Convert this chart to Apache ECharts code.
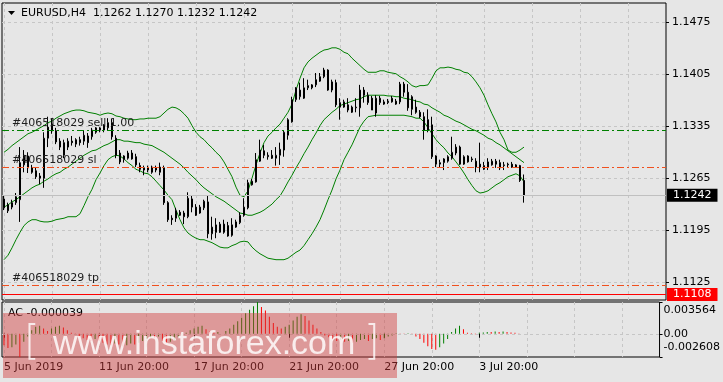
<!DOCTYPE html>
<html><head><meta charset="utf-8">
<script src="https://cdn.jsdelivr.net/npm/echarts@6/dist/echarts.min.js"></script>
<style>html,body{margin:0;padding:0;background:#e6e6e6;}#c{width:723px;height:382px;}</style>
</head><body><div id="c"></div>
<script>
const symbolName = 'EURUSD,H4';
const opens = [1.1237,1.1221,1.1226,1.1232,1.1236,1.1283,1.1295,1.1279,1.1275,1.1265,
1.1265,1.1319,1.1338,1.1329,1.1315,1.1296,1.1307,1.1315,1.1311,1.1317,
1.1315,1.1322,1.1321,1.1327,1.1330,1.1330,1.1333,1.1340,1.1319,1.1299,
1.1290,1.1292,1.1299,1.1294,1.1282,1.1279,1.1276,1.1273,1.1279,1.1273,
1.1279,1.1232,1.1211,1.1211,1.1219,1.1218,1.1213,1.1237,1.1226,1.1218,
1.1225,1.1233,1.1190,1.1202,1.1192,1.1203,1.1201,1.1202,1.1199,1.1205,
1.1215,1.1225,1.1256,1.1260,1.1288,1.1302,1.1294,1.1296,1.1292,1.1296,
1.1303,1.1323,1.1341,1.1371,1.1375,1.1373,1.1387,1.1387,1.1391,1.1396,
1.1402,1.1411,1.1384,1.1394,1.1367,1.1368,1.1364,1.1354,1.1360,1.1360,
1.1384,1.1367,1.1373,1.1353,1.1367,1.1368,1.1367,1.1368,1.1369,1.1368,
1.1392,1.1381,1.1358,1.1361,1.1354,1.1348,1.1344,1.1337,1.1295,1.1284,
1.1286,1.1288,1.1292,1.1299,1.1307,1.1284,1.1287,1.1291,1.1288,1.1284,
1.1277,1.1287,1.1283,1.1288,1.1286,1.1282,1.1283,1.1284,1.1280,1.1282,
1.1262];
const highs = [1.1241,1.1232,1.1236,1.1245,1.1307,1.1303,1.1300,1.1283,1.1279,1.1272,
1.1327,1.1348,1.1346,1.1333,1.1319,1.1317,1.1319,1.1322,1.1319,1.1321,
1.1330,1.1326,1.1333,1.1334,1.1334,1.1338,1.1346,1.1345,1.1323,1.1303,
1.1296,1.1302,1.1303,1.1298,1.1286,1.1282,1.1282,1.1282,1.1282,1.1286,
1.1282,1.1234,1.1215,1.1225,1.1222,1.1221,1.1246,1.1242,1.1230,1.1229,
1.1236,1.1242,1.1213,1.1211,1.1206,1.1209,1.1206,1.1211,1.1209,1.1219,
1.1238,1.1263,1.1264,1.1299,1.1317,1.1310,1.1300,1.1303,1.1307,1.1313,
1.1330,1.1346,1.1375,1.1388,1.1394,1.1400,1.1398,1.1392,1.1407,1.1407,
1.1414,1.1412,1.1398,1.1398,1.1373,1.1371,1.1373,1.1363,1.1373,1.1391,
1.1388,1.1381,1.1376,1.1377,1.1376,1.1371,1.1372,1.1376,1.1372,1.1395,
1.1395,1.1392,1.1377,1.1371,1.1357,1.1354,1.1358,1.1348,1.1296,1.1290,
1.1292,1.1296,1.1321,1.1311,1.1309,1.1296,1.1296,1.1294,1.1292,1.1313,
1.1287,1.1292,1.1291,1.1291,1.1290,1.1287,1.1286,1.1287,1.1284,1.1283,
1.1270];
const lows = [1.1222,1.1218,1.1223,1.1229,1.1206,1.1273,1.1272,1.1271,1.1264,1.1257,
1.1252,1.1307,1.1325,1.1311,1.1303,1.1292,1.1303,1.1309,1.1307,1.1309,
1.1310,1.1306,1.1317,1.1325,1.1327,1.1327,1.1330,1.1317,1.1292,1.1284,
1.1286,1.1290,1.1290,1.1280,1.1273,1.1269,1.1273,1.1271,1.1273,1.1269,
1.1229,1.1206,1.1202,1.1206,1.1214,1.1203,1.1211,1.1219,1.1214,1.1217,
1.1222,1.1184,1.1182,1.1184,1.1191,1.1190,1.1186,1.1186,1.1198,1.1203,
1.1213,1.1223,1.1255,1.1259,1.1287,1.1292,1.1290,1.1291,1.1282,1.1283,
1.1294,1.1317,1.1340,1.1368,1.1371,1.1372,1.1384,1.1385,1.1388,1.1395,
1.1400,1.1383,1.1381,1.1361,1.1344,1.1360,1.1354,1.1353,1.1354,1.1348,
1.1367,1.1364,1.1357,1.1348,1.1364,1.1364,1.1365,1.1367,1.1364,1.1365,
1.1375,1.1356,1.1350,1.1352,1.1346,1.1317,1.1327,1.1291,1.1280,1.1280,
1.1276,1.1286,1.1290,1.1296,1.1283,1.1283,1.1286,1.1287,1.1273,1.1273,
1.1276,1.1276,1.1282,1.1279,1.1276,1.1276,1.1280,1.1279,1.1279,1.1260,
1.1232];
const closes = [1.1225,1.1229,1.1232,1.1240,1.1286,1.1296,1.1279,1.1273,1.1267,1.1268,
1.1319,1.1334,1.1329,1.1314,1.1307,1.1313,1.1315,1.1313,1.1317,1.1313,
1.1323,1.1313,1.1330,1.1333,1.1333,1.1337,1.1340,1.1321,1.1296,1.1287,
1.1295,1.1299,1.1291,1.1283,1.1277,1.1276,1.1279,1.1280,1.1276,1.1280,
1.1232,1.1209,1.1209,1.1221,1.1215,1.1213,1.1238,1.1226,1.1215,1.1226,
1.1234,1.1190,1.1199,1.1192,1.1203,1.1192,1.1187,1.1188,1.1206,1.1215,
1.1226,1.1259,1.1261,1.1290,1.1303,1.1296,1.1296,1.1292,1.1296,1.1304,
1.1327,1.1344,1.1371,1.1387,1.1384,1.1387,1.1390,1.1391,1.1398,1.1402,
1.1411,1.1384,1.1395,1.1364,1.1361,1.1361,1.1357,1.1361,1.1361,1.1384,
1.1377,1.1377,1.1357,1.1373,1.1373,1.1365,1.1369,1.1373,1.1365,1.1392,
1.1381,1.1360,1.1375,1.1354,1.1348,1.1330,1.1330,1.1294,1.1284,1.1286,
1.1291,1.1294,1.1300,1.1307,1.1284,1.1294,1.1295,1.1290,1.1280,1.1280,
1.1282,1.1280,1.1288,1.1284,1.1279,1.1283,1.1284,1.1280,1.1283,1.1262,
1.1242];
const bbUpper = [1.1300,1.1304,1.1309,1.1313,1.1317,1.1321,1.1325,1.1327,1.1330,1.1333,
1.1336,1.1340,1.1342,1.1346,1.1349,1.1352,1.1354,1.1356,1.1357,1.1357,
1.1356,1.1354,1.1353,1.1352,1.1350,1.1352,1.1353,1.1352,1.1349,1.1348,
1.1346,1.1345,1.1344,1.1344,1.1345,1.1345,1.1346,1.1346,1.1346,1.1348,
1.1353,1.1358,1.1361,1.1360,1.1357,1.1352,1.1346,1.1336,1.1327,1.1321,
1.1317,1.1311,1.1306,1.1300,1.1295,1.1287,1.1277,1.1267,1.1253,1.1242,
1.1240,1.1248,1.1265,1.1283,1.1299,1.1313,1.1322,1.1327,1.1333,1.1338,
1.1346,1.1354,1.1365,1.1384,1.1400,1.1414,1.1422,1.1427,1.1431,1.1435,
1.1438,1.1439,1.1441,1.1441,1.1439,1.1435,1.1433,1.1427,1.1422,1.1417,
1.1412,1.1408,1.1408,1.1408,1.1410,1.1410,1.1408,1.1407,1.1406,1.1402,
1.1399,1.1395,1.1390,1.1388,1.1390,1.1390,1.1391,1.1400,1.1410,1.1414,
1.1414,1.1415,1.1414,1.1412,1.1411,1.1408,1.1407,1.1402,1.1395,1.1387,
1.1377,1.1364,1.1352,1.1341,1.1327,1.1317,1.1303,1.1300,1.1300,1.1303,
1.1307];
const bbMiddle = [1.1226,1.1229,1.1233,1.1236,1.1240,1.1244,1.1248,1.1252,1.1255,1.1257,
1.1261,1.1264,1.1268,1.1271,1.1273,1.1277,1.1280,1.1284,1.1288,1.1292,
1.1296,1.1299,1.1302,1.1303,1.1306,1.1309,1.1311,1.1314,1.1317,1.1317,
1.1315,1.1315,1.1314,1.1313,1.1313,1.1311,1.1310,1.1309,1.1306,1.1303,
1.1300,1.1296,1.1292,1.1288,1.1284,1.1279,1.1273,1.1268,1.1263,1.1257,
1.1252,1.1248,1.1244,1.1240,1.1237,1.1234,1.1230,1.1226,1.1222,1.1218,
1.1217,1.1215,1.1215,1.1217,1.1219,1.1222,1.1226,1.1230,1.1236,1.1241,
1.1250,1.1260,1.1269,1.1279,1.1288,1.1298,1.1307,1.1317,1.1326,1.1336,
1.1344,1.1349,1.1354,1.1358,1.1363,1.1365,1.1367,1.1369,1.1371,1.1372,
1.1375,1.1377,1.1377,1.1377,1.1377,1.1377,1.1376,1.1376,1.1375,1.1375,
1.1373,1.1372,1.1371,1.1369,1.1368,1.1365,1.1364,1.1360,1.1357,1.1354,
1.1350,1.1348,1.1345,1.1342,1.1340,1.1337,1.1334,1.1331,1.1329,1.1326,
1.1323,1.1319,1.1317,1.1313,1.1310,1.1306,1.1302,1.1298,1.1294,1.1290,
1.1286];
const bbLower = [1.1155,1.1161,1.1171,1.1182,1.1192,1.1201,1.1206,1.1209,1.1209,1.1207,
1.1206,1.1206,1.1207,1.1209,1.1210,1.1211,1.1213,1.1213,1.1213,1.1217,
1.1228,1.1240,1.1250,1.1263,1.1272,1.1282,1.1290,1.1294,1.1296,1.1295,
1.1291,1.1286,1.1282,1.1277,1.1275,1.1272,1.1271,1.1267,1.1261,1.1255,
1.1249,1.1242,1.1236,1.1222,1.1209,1.1198,1.1191,1.1187,1.1184,1.1182,
1.1182,1.1180,1.1178,1.1175,1.1172,1.1171,1.1171,1.1174,1.1176,1.1179,
1.1180,1.1179,1.1172,1.1167,1.1163,1.1160,1.1157,1.1156,1.1155,1.1155,
1.1155,1.1157,1.1161,1.1165,1.1168,1.1174,1.1182,1.1190,1.1199,1.1209,
1.1222,1.1236,1.1249,1.1264,1.1276,1.1290,1.1300,1.1310,1.1322,1.1334,
1.1342,1.1348,1.1349,1.1350,1.1350,1.1350,1.1350,1.1350,1.1350,1.1350,
1.1350,1.1349,1.1348,1.1346,1.1346,1.1341,1.1333,1.1325,1.1317,1.1311,
1.1306,1.1299,1.1294,1.1287,1.1280,1.1272,1.1263,1.1255,1.1248,1.1245,
1.1246,1.1248,1.1252,1.1256,1.1259,1.1263,1.1267,1.1269,1.1271,1.1268,
1.1260];
const acValues = [-0.0013,-0.0016,-0.0015,-0.0012,-0.002608,-0.0009,-0.0003,0.0004,0.0008,0.0009,
0.0006,0.0003,0.0006,0.0008,0.0009,0.0007,0.0004,0.0001,-0.0001,-0.0003,
-0.0005,-0.0007,-0.0008,-0.0006,-0.0008,-0.0010,-0.0012,-0.0013,-0.0011,-0.0012,
-0.0014,-0.0013,-0.0011,-0.0012,-0.0010,-0.0008,-0.0006,-0.0004,-0.0005,-0.0003,
-0.0008,-0.0010,-0.0009,-0.0007,-0.0004,-0.0002,0.0001,0.0004,0.0006,0.0008,
0.0009,0.0005,0.0003,0.0001,0.0002,0.0000,0.0003,0.0006,0.0010,0.0014,
0.0018,0.0023,0.0027,0.0031,0.003564,0.0030,0.0026,0.0019,0.0012,0.0008,
0.0006,0.0008,0.0010,0.0015,0.0019,0.0022,0.0020,0.0015,0.0010,0.0006,
0.0002,-0.0002,-0.0004,-0.0006,-0.0008,-0.0007,-0.0009,-0.0008,-0.0010,-0.0009,
-0.0007,-0.0006,-0.0008,-0.0006,-0.0005,-0.0007,-0.0005,-0.0003,-0.0002,0.00006,
0.00003,-0.00004,0.00005,-0.00002,-0.0003,-0.0006,-0.0010,-0.0014,-0.0017,-0.0018,
-0.0015,-0.0011,-0.0006,0.0002,0.0006,0.0009,0.0005,0.0001,0.00005,-0.00005,
0.0001,0.00015,0.0002,0.0002,0.00025,0.0002,0.00025,0.0002,0.00015,0.0001,
-0.000039];
const priceTicks = [1.1125, 1.1195, 1.1265, 1.1335, 1.1405, 1.1475];
const acMin = -0.002608, acMax = 0.003564;
const acTicks = [acMin, 0, acMax];
const dateTickIndex = [0, 24, 48, 72, 96, 120];
const dateTickLabels = ['5 Jun 2019', '11 Jun 20:00', '17 Jun 20:00', '21 Jun 20:00', '27 Jun 20:00', '3 Jul 20:00'];
const orderId = '#406518029';
const sellLevel = 1.1330, slLevel = 1.1280, tpLevel = 1.1121, stopOutLevel = 1.1108, bidLevel = 1.1242;
const priceMin = 1.11006, priceMax = 1.15015;
const slotCount = 166;

const FONT = 'DejaVu Sans';
const chart = echarts.init(document.getElementById('c'), null, {renderer: 'canvas'});
const cats = Array.from({length: slotCount}, (_, i) => String(i));
const labelAt = {};
dateTickIndex.forEach((ix, k) => { labelAt[ix] = dateTickLabels[k]; });
const candleData = opens.map((o, i) => [o, closes[i], lows[i], highs[i]]);
const last = opens.length - 1;
const gridLine = {color: '#c6c6c6', width: 1, type: [3, 3]};
const dashDot = [7, 3, 2, 3];
const txt = {fontFamily: FONT, fontSize: 11};

function orderLine(v, color, text) {
  return {yAxis: v, lineStyle: {color: color, type: dashDot, width: 1},
    label: Object.assign({show: true, position: 'insideStartTop', formatter: text, color: '#1e1e1e', distance: [10, 1]}, txt)};
}
function boxLine(v, color, lineColor) {
  return {yAxis: v, lineStyle: {color: lineColor, type: 'solid', width: 1},
    label: Object.assign({show: true, position: 'end', formatter: v.toFixed(4), color: '#fff', backgroundColor: color, padding: [1, 6, 1, 6], distance: 1}, txt)};
}
const bandSeries = (data, extra) => Object.assign({type: 'line', xAxisIndex: 0, yAxisIndex: 0, data: data, symbol: 'none', silent: true,
  lineStyle: {color: '#008000', width: 1}, itemStyle: {color: '#008000'}, z: 2}, extra || {});

const levelMarks = {silent: true, symbol: ['none', 'none'], animation: false, precision: 6,
  data: [
    boxLine(bidLevel, '#000000', '#c0c0c0'),
    orderLine(sellLevel, '#008000', orderId + ' sell 1.00'),
    orderLine(slLevel, '#f0501e', orderId + ' sl'),
    orderLine(tpLevel, '#f0501e', orderId + ' tp'),
    boxLine(stopOutLevel, '#ff0000', '#ff0000')
  ]};

const option = {
  animation: false,
  backgroundColor: '#e6e6e6',
  textStyle: txt,
  grid: [
    {left: 2, top: 3, width: 664, height: 297, show: true, borderColor: '#000', borderWidth: 1, backgroundColor: 'transparent'},
    {left: 2, top: 302, width: 664, height: 55, show: true, borderColor: '#000', borderWidth: 1, backgroundColor: 'transparent'}
  ],
  xAxis: [
    {gridIndex: 0, type: 'category', data: cats, boundaryGap: true, axisLine: {show: false}, axisTick: {show: false}, axisLabel: {show: false},
      splitLine: {show: true, interval: (i) => i % 12 === 0, alignWithLabel: true, lineStyle: gridLine}},
    {gridIndex: 1, type: 'category', data: cats, boundaryGap: true, axisLine: {show: false},
      axisTick: {show: true, interval: (i) => (i in labelAt), alignWithLabel: true, length: 4, lineStyle: {color: '#000'}},
      axisLabel: Object.assign({show: true, interval: (i) => (i in labelAt), formatter: (v, i) => labelAt[i] || '', align: 'left', margin: 5, color: '#000'}, txt),
      splitLine: {show: true, interval: (i) => i % 12 === 0, alignWithLabel: true, lineStyle: gridLine}}
  ],
  yAxis: [
    {gridIndex: 0, type: 'value', position: 'right', min: priceMin, max: priceMax,
      axisLine: {show: false},
      axisTick: {show: true, customValues: priceTicks, length: 3, lineStyle: {color: '#000'}},
      axisLabel: Object.assign({customValues: priceTicks, formatter: (v) => v.toFixed(4), color: '#000', margin: 6}, txt),
      splitLine: {show: true, lineStyle: gridLine}},
    {gridIndex: 1, type: 'value', position: 'right', min: acMin, max: acMax,
      axisLine: {show: false},
      axisTick: {show: true, customValues: acTicks, length: 3, lineStyle: {color: '#000'}},
      axisLabel: Object.assign({customValues: acTicks, margin: 4, color: '#000',
        formatter: (v) => v === acMax ? '{t|' + acMax.toFixed(6) + '}' : (v === acMin ? '{b|' + acMin.toFixed(6) + '}' : '{m|0.00}'),
        rich: {t: Object.assign({padding: [16, 0, 0, 0], color: '#000'}, txt), b: Object.assign({padding: [0, 0, 20, 0], color: '#000'}, txt), m: Object.assign({color: '#000'}, txt)}}, txt),
      splitLine: {show: false}}
  ],
  series: [
    bandSeries(bbUpper), bandSeries(bbMiddle, {markLine: levelMarks}), bandSeries(bbLower),
    {type: 'candlestick', xAxisIndex: 0, yAxisIndex: 0, data: candleData, barWidth: 2, z: 3,
      itemStyle: {color: '#ffffff', color0: '#000000', borderColor: '#000000', borderColor0: '#000000', borderWidth: 1}},
    {type: 'bar', xAxisIndex: 1, yAxisIndex: 1, data: acValues, barWidth: 1, silent: true,
      itemStyle: {color: (p) => (p.dataIndex > 0 && acValues[p.dataIndex] > acValues[p.dataIndex - 1]) ? '#008000' : '#ff0000'},
      markLine: {silent: true, symbol: ['none', 'none'], precision: 6, label: {show: false}, data: [{yAxis: 0, lineStyle: gridLine}]}}
  ],
  graphic: [
    {type: 'polygon', shape: {points: [[8, 11], [15, 11], [11.5, 15]]}, style: {fill: '#000'}, z: 50},
    {type: 'text', x: 21, y: 13, z: 50, style: {text: symbolName + '  ' + [opens[last], highs[last], lows[last], closes[last]].map(v => v.toFixed(4)).join(' '), font: '11px "DejaVu Sans"', fill: '#000', verticalAlign: 'middle'}},
    {type: 'text', x: 8, y: 313, z: 50, style: {text: 'AC ' + acValues[last].toFixed(6), font: '11px "DejaVu Sans"', fill: '#000', verticalAlign: 'middle'}},
    {type: 'group', z: 100, children: [
      {type: 'rect', shape: {x: 3, y: 313, width: 394, height: 65}, style: {fill: 'rgba(210,60,60,0.45)'}, z: 100},
      {type: 'text', x: 24, y: 344, z: 101, style: {text: '[', font: '200 40px "DejaVu Sans"', fill: 'rgba(255,255,255,0.8)', verticalAlign: 'middle'}},
      {type: 'text', x: 53, y: 345, z: 101, style: {text: 'www.instaforex.com', font: '34px "Liberation Sans"', fill: 'rgba(255,255,255,0.82)', verticalAlign: 'middle'}},
      {type: 'text', x: 364, y: 344, z: 101, style: {text: ']', font: '200 40px "DejaVu Sans"', fill: 'rgba(255,255,255,0.8)', verticalAlign: 'middle'}}
    ]}
  ]
};
chart.setOption(option);
</script></body></html>
